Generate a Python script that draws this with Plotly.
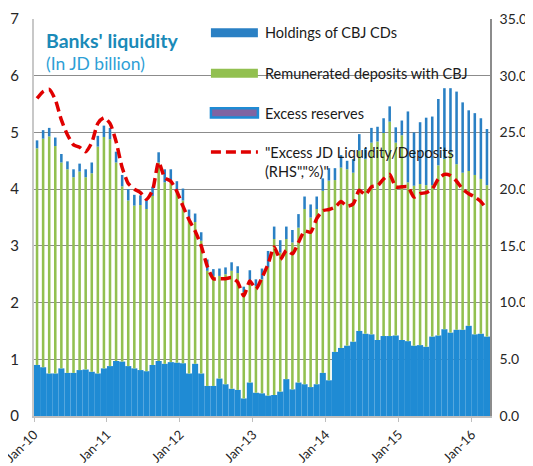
import plotly.graph_objects as go

# monthly, Jan-10 .. Mar-16
tick_labels = ['Jan-10', 'Jan-11', 'Jan-12', 'Jan-13', 'Jan-14', 'Jan-15', 'Jan-16']

# JD billion
excess_reserves = [
    0.90, 0.86, 0.75, 0.75, 0.84, 0.76, 0.76, 0.81, 0.82, 0.78, 0.75, 0.84,
    0.88, 0.97, 0.96, 0.88, 0.84, 0.81, 0.79, 0.90, 0.97, 0.92, 0.95, 0.94,
    0.93, 0.75, 0.92, 0.75, 0.53, 0.53, 0.66, 0.56, 0.48, 0.46, 0.31, 0.59,
    0.41, 0.40, 0.36, 0.37, 0.43, 0.65, 0.47, 0.59, 0.56, 0.51, 0.56, 0.76,
    0.63, 1.13, 1.20, 1.24, 1.31, 1.50, 1.45, 1.44, 1.34, 1.41, 1.41, 1.42,
    1.34, 1.32, 1.24, 1.25, 1.22, 1.40, 1.42, 1.53, 1.47, 1.52, 1.52, 1.59,
    1.44, 1.45, 1.40,
]
remunerated_deposits = [
    3.82, 4.03, 4.18, 4.01, 3.63, 3.59, 3.45, 3.50, 3.39, 3.50, 4.00, 4.08,
    4.00, 3.50, 3.09, 2.92, 2.87, 2.91, 2.86, 2.98, 3.50, 3.20, 3.20, 3.04,
    2.87, 2.71, 2.50, 2.34, 2.03, 1.94, 1.81, 1.94, 2.08, 2.06, 1.87, 1.79,
    1.88, 2.01, 2.26, 2.75, 2.45, 2.47, 2.59, 2.73, 3.09, 2.99, 3.09, 3.21,
    3.52, 3.03, 3.18, 3.11, 2.98, 3.18, 3.08, 3.38, 3.50, 3.58, 3.78, 3.40,
    3.61, 2.80, 2.82, 2.84, 2.85, 2.67, 3.00, 3.00, 3.18, 2.92, 2.77, 2.73,
    2.81, 2.73, 2.67,
]
cbj_cds = [
    0.14, 0.15, 0.15, 0.15, 0.15, 0.14, 0.14, 0.14, 0.14, 0.19, 0.19, 0.20,
    0.20, 0.19, 0.20, 0.20, 0.19, 0.17, 0.17, 0.16, 0.18, 0.23, 0.20, 0.16,
    0.21, 0.18, 0.15, 0.15, 0.20, 0.12, 0.13, 0.12, 0.15, 0.12, 0.10, 0.19,
    0.12, 0.19, 0.29, 0.22, 0.22, 0.22, 0.22, 0.24, 0.22, 0.23, 0.22, 0.22,
    0.22, 0.21, 0.22, 0.15, 0.24, 0.29, 0.19, 0.26, 0.26, 0.26, 0.27, 0.27,
    0.26, 1.25, 0.94, 1.09, 1.19, 1.21, 1.17, 1.25, 1.13, 1.28, 1.24, 1.07,
    1.09, 1.07, 0.99,
]
# excess JD liquidity / deposits, %
liquidity_ratio = [
    28.0, 28.6, 28.8, 27.9, 26.1, 24.8, 23.9, 23.7, 23.3, 24.1, 25.8, 26.3,
    25.8, 24.2, 21.9, 20.5, 20.0, 19.7, 19.1, 19.9, 22.4, 21.0, 20.7, 19.8,
    18.5, 17.3, 16.3, 15.0, 13.2, 12.1, 12.1, 12.1, 12.2, 11.8, 10.6, 11.9,
    11.2, 12.2, 13.4, 14.9, 13.8, 14.6, 14.3, 15.3, 16.3, 16.2, 17.4, 18.1,
    18.2, 18.4, 18.9, 18.5, 18.7, 19.9, 19.5, 20.2, 20.3, 20.9, 21.3, 20.2,
    20.2, 20.2, 19.3, 19.6, 19.7, 20.0, 20.9, 21.3, 21.2, 20.7, 20.0, 19.6,
    19.3, 18.9, 18.2,
]

months = list(range(len(excess_reserves)))
cd_base = [a + b for a, b in zip(excess_reserves, remunerated_deposits)]

ER_BLUE = '#1f8bd4'
CD_BLUE = '#2a80c4'
GREEN = '#92c050'
RED = '#e00000'

fig = go.Figure()
fig.add_trace(go.Bar(x=months, y=excess_reserves, width=1.0,
                     marker=dict(color=ER_BLUE, line_width=0), name='Excess reserves'))
fig.add_trace(go.Bar(x=months, y=remunerated_deposits, base=excess_reserves, width=0.42,
                     marker=dict(color=GREEN, line_width=0), name='Remunerated deposits with CBJ'))
fig.add_trace(go.Bar(x=months, y=cbj_cds, base=cd_base, width=0.42,
                     marker=dict(color=CD_BLUE, line_width=0), name='Holdings of CBJ CDs'))
fig.add_trace(go.Scatter(x=months, y=liquidity_ratio, yaxis='y2', mode='lines',
                         line=dict(color=RED, width=3.5, dash='10px,5px', shape='spline', smoothing=0.6),
                         name='Excess JD Liquidity/Deposits'))

# the page body has an 8px margin, so the figure is 8px smaller and shifted
fig.update_layout(
    width=525, height=458, template='none', barmode='overlay', showlegend=False,
    margin=dict(l=26, r=43, t=11, b=50),
    paper_bgcolor='white', plot_bgcolor='white',
    font=dict(family='Lato, sans-serif', size=14, color='#262626'),
    xaxis=dict(range=[-0.5, len(months) - 0.5],
               tickvals=[-0.5 + 12 * k for k in range(len(tick_labels))], ticktext=tick_labels,
               tickangle=-45, ticks='outside', ticklen=4, tickcolor='#bfbfbf',
               showgrid=False, showline=True, linecolor='#bfbfbf', linewidth=2,
               zeroline=False, tickfont=dict(size=13), ticklabeloverflow='allow'),
    yaxis=dict(range=[0, 7], dtick=1, showgrid=True, gridcolor='#8c8c8c', gridwidth=1,
               showline=True, linecolor='#c8c8c8', linewidth=2, zeroline=False,
               ticks='', ticklabelstandoff=10, tickfont=dict(size=15)),
    yaxis2=dict(range=[0, 35], dtick=5, tickformat='.1f', overlaying='y', side='right',
                showgrid=False, showline=True, linecolor='#8c8c8c', linewidth=1.5,
                zeroline=False, ticks='', ticklabelstandoff=5, ticklabeloverflow='allow'),
)

# title inside the plot
fig.add_annotation(x=0.022, y=0.947, xref='paper', yref='paper', xanchor='left', yanchor='middle',
                   text="<b>Banks' liquidity</b>", showarrow=False,
                   font=dict(size=19.5, color='#1a8ab8'))
fig.add_annotation(x=0.022, y=0.889, xref='paper', yref='paper', xanchor='left', yanchor='middle',
                   text='(In JD billion)', showarrow=False,
                   font=dict(size=17.5, color='#2e9fd6'))

# hand-drawn legend, like the Excel one
lx0, lx1, tx = 0.388, 0.491, 0.502
rows = [
    ('Holdings of CBJ CDs', 0.965),
    ('Remunerated deposits with CBJ', 0.863),
    ('Excess reserves', 0.763),
]
fig.add_shape(type='rect', xref='paper', yref='paper', x0=lx0, x1=lx1, y0=0.954, y1=0.977,
              fillcolor=CD_BLUE, line_width=0)
fig.add_shape(type='rect', xref='paper', yref='paper', x0=lx0, x1=lx1, y0=0.852, y1=0.875,
              fillcolor=GREEN, line_width=0)
fig.add_shape(type='rect', xref='paper', yref='paper', x0=lx0, x1=lx1, y0=0.752, y1=0.775,
              fillcolor='#8064a2', line=dict(color=ER_BLUE, width=2.5))
fig.add_shape(type='line', xref='paper', yref='paper', x0=lx0, x1=lx1, y0=0.665, y1=0.665,
              line=dict(color=RED, width=3.5, dash='10px,5px'))
for label, yy in rows:
    fig.add_annotation(x=tx, y=yy, xref='paper', yref='paper', xanchor='left', yanchor='middle',
                       text=label, showarrow=False, font=dict(size=14.5, color='#1a1a1a'))
fig.add_annotation(x=tx, y=0.69, xref='paper', yref='paper', xanchor='left', yanchor='top',
                   text='"Excess JD Liquidity/Deposits<br>(RHS","%)"', align='left',
                   showarrow=False, font=dict(size=14.5, color='#1a1a1a'))

fig.write_html("out.html")
